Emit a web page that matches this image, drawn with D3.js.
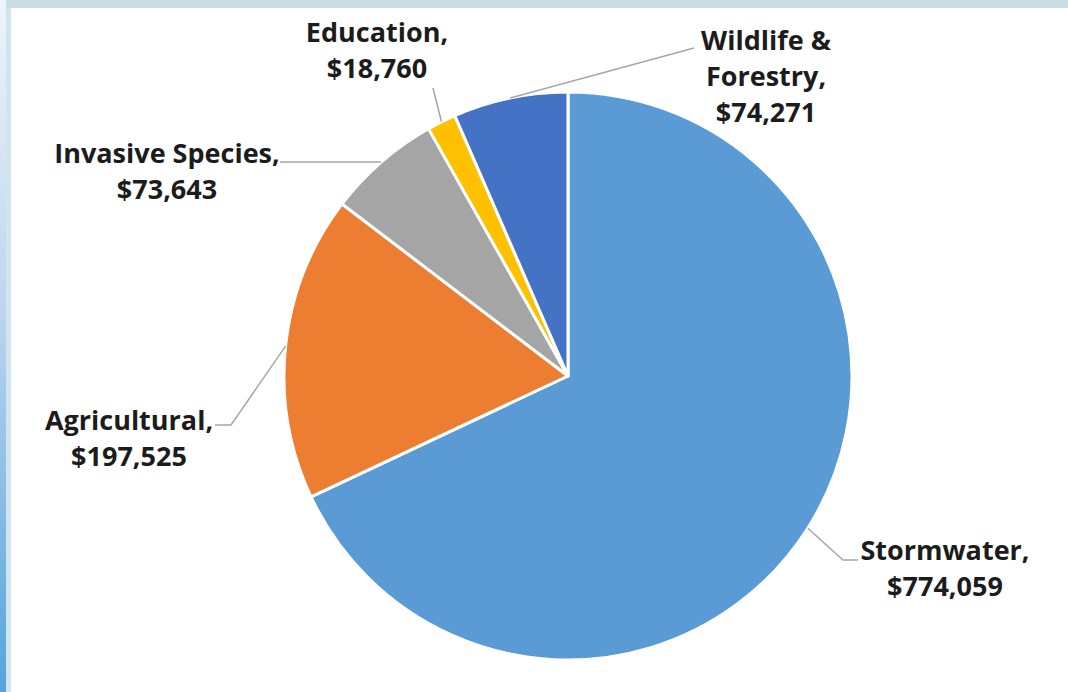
<!DOCTYPE html>
<html>
<head>
<meta charset="utf-8">
<script src="https://cdn.jsdelivr.net/npm/d3@7"></script>
<style>
  html, body { margin: 0; padding: 0; background: #fff; }
  svg { display: block; }
</style>
</head>
<body>
<div id="vis"></div>
<script>
// Chart data
const categories = ["Stormwater", "Agricultural", "Invasive Species", "Education", "Wildlife & Forestry"]
const amounts = [774059, 197525, 73643, 18760, 74271]
const colors = ["#5b9bd5", "#ed7d31", "#a5a5a5", "#ffc000", "#4472c4"]
// label text lines (as shown in the picture)
const labelLines = [
  ["Stormwater,", "$774,059"],
  ["Agricultural,", "$197,525"],
  ["Invasive Species,", "$73,643"],
  ["Education,", "$18,760"],
  ["Wildlife &", "Forestry,", "$74,271"]
]

// Layout
const width = 1068, height = 692
const cx = 568, cy = 376, radius = 284
const lineHeight = 36
// label anchor (centre x, first baseline) and leader elbow points, same order as categories
const labelPos = [
  {x: 945, y: 560, elbow: [[843, 560], [858, 560]]},
  {x: 129, y: 430, elbow: [[231, 425], [215, 425]]},
  {x: 167, y: 163, elbow: [[280, 162]]},
  {x: 377, y: 42, elbow: [[433, 88]]},
  {x: 766, y: 50, elbow: [[694, 48]]}
]

const svg = d3.select("#vis")
  .append("svg")
  .attr("width", width)
  .attr("height", height)

// frame like the slide border
const defs = svg.append("defs")
const grad = defs.append("linearGradient")
  .attr("id", "leftband")
  .attr("x1", 0).attr("y1", 0).attr("x2", 0).attr("y2", 1)
grad.append("stop").attr("offset", "0%").attr("stop-color", "#eef4fa")
grad.append("stop").attr("offset", "45%").attr("stop-color", "#bcd5ee")
grad.append("stop").attr("offset", "100%").attr("stop-color", "#55a3dc")

svg.append("rect").attr("x", 0).attr("y", 0).attr("width", width).attr("height", 8).attr("fill", "#cbdee4")
svg.append("rect").attr("x", 0).attr("y", 0).attr("width", 6).attr("height", height).attr("fill", "url(#leftband)")
svg.append("rect").attr("x", 6).attr("y", 8).attr("width", 5).attr("height", height - 8).attr("fill", "#d2e5ee")

const pie = d3.pie().sort(null).value(d => d)
const arcs = pie(amounts)
const arc = d3.arc().innerRadius(0).outerRadius(radius)
const edgeArc = d3.arc().innerRadius(radius).outerRadius(radius)

const g = svg.append("g").attr("transform", `translate(${cx},${cy})`)

g.selectAll("path.slice")
  .data(arcs)
  .enter()
  .append("path")
  .attr("class", "slice")
  .attr("d", arc)
  .attr("fill", (d, i) => colors[i])
  .attr("stroke", "#fff")
  .attr("stroke-width", 3)
  .attr("stroke-linejoin", "round")

// leader lines: from slice edge (mid angle) to the label
const line = d3.line()
svg.selectAll("path.leader")
  .data(arcs)
  .enter()
  .append("path")
  .attr("class", "leader")
  .attr("d", (d, i) => {
    const p = edgeArc.centroid(d)
    return line([[p[0] + cx, p[1] + cy]].concat(labelPos[i].elbow))
  })
  .attr("fill", "none")
  .attr("stroke", "#a6a6a6")
  .attr("stroke-width", 1.5)

// labels
const labels = svg.selectAll("text.label")
  .data(categories)
  .enter()
  .append("text")
  .attr("class", "label")
  .attr("text-anchor", "middle")
  .attr("font-family", "'Open Sans', sans-serif")
  .attr("font-weight", "bold")
  .attr("font-size", 27)
  .attr("fill", "#1c1c1c")

labels.selectAll("tspan")
  .data((d, i) => labelLines[i].map(t => ({t: t, i: i})))
  .enter()
  .append("tspan")
  .attr("x", d => labelPos[d.i].x)
  .attr("y", (d, j) => labelPos[d.i].y + j * lineHeight)
  .text(d => d.t)
</script>
</body>
</html>
